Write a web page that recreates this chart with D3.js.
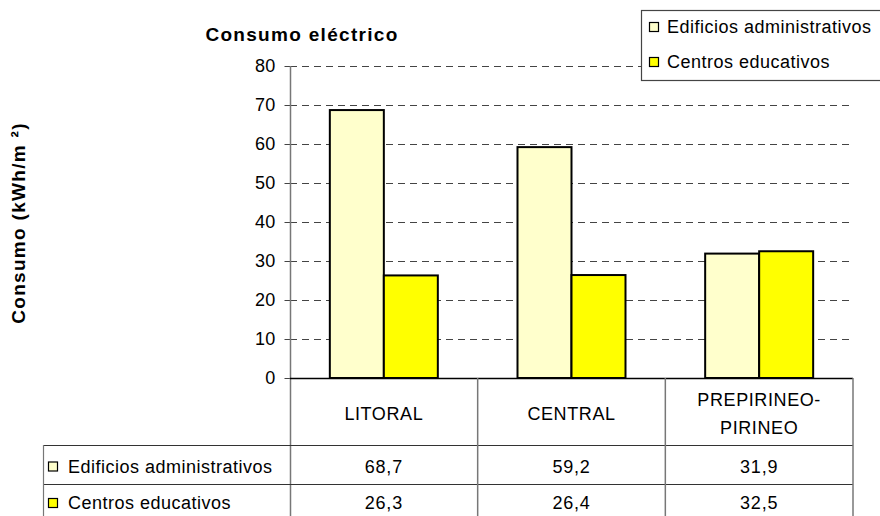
<!DOCTYPE html>
<html><head><meta charset="utf-8">
<script src="https://cdn.jsdelivr.net/npm/d3@7"></script>
<style>
html,body{margin:0;padding:0;background:#fff;}
svg{display:block;font-family:"Liberation Sans",Arial,sans-serif;}
</style></head>
<body>
<svg id="c" width="880" height="516"></svg>
<script>
const categories = ["LITORAL", "CENTRAL", "PREPIRINEO-PIRINEO"];
const categoryLines = [["LITORAL"], ["CENTRAL"], ["PREPIRINEO-", "PIRINEO"]];
const seriesNames = ["Edificios administrativos", "Centros educativos"];
const edificios = [68.7, 59.2, 31.9];
const centros = [26.3, 26.4, 32.5];
const yTicks = [0, 10, 20, 30, 40, 50, 60, 70, 80];
const colors = ["#FFFFCC", "#FFFF00"];
const title = "Consumo eléctrico";
const yLabel = "Consumo (kWh/m ²)";

const seriesValues = [edificios, centros];
const svg = d3.select("#c");
const W = 880, H = 516;
const pL = 290, pR = 853, pT = 66, pB = 378;
const fmt = d3.formatLocale({decimal: ",", thousands: ".", grouping: [3], currency: ["", "€"]}).format(".1f");

const x = d3.scaleBand().domain(categories).range([pL, pR]).padding(0);
const bw = x.bandwidth();
const x1 = d3.scaleBand().domain(seriesNames).range([bw / 2 - 54, bw / 2 + 54]).padding(0);
const y = d3.scaleLinear().domain([0, 80]).range([pB, pT]);

// gridlines
svg.append("g").selectAll("line").data(yTicks.filter(d => d > 0)).join("line")
  .attr("x1", pL).attr("x2", pR)
  .attr("y1", d => Math.round(y(d)) + 0.5).attr("y2", d => Math.round(y(d)) + 0.5)
  .attr("stroke", "#444").attr("stroke-width", 1).attr("stroke-dasharray", "7,5");

// y axis
const yAxis = d3.axisLeft(y).tickValues(yTicks).tickSize(6).tickPadding(9).tickFormat(d3.format("d"));
const gy = svg.append("g").attr("transform", `translate(${pL + 0.5},0)`).call(yAxis);
gy.select(".domain").remove();
gy.selectAll(".tick line").attr("stroke", "#444");
gy.selectAll(".tick text").attr("font-size", 18).attr("fill", "#000")
  .attr("font-family", "Liberation Sans, Arial, sans-serif").attr("letter-spacing", 0.2);
svg.append("line").attr("x1", pL + 0.5).attr("x2", pL + 0.5).attr("y1", pT).attr("y2", H)
  .attr("stroke", "#777").attr("stroke-width", 1.5);

// bars
const groups = svg.append("g").selectAll("g").data(categories).join("g")
  .attr("transform", d => `translate(${x(d)},0)`);
groups.selectAll("rect").data((d, i) => seriesNames.map((s, j) => ({s, j, v: seriesValues[j][i]}))).join("rect")
  .attr("x", d => x1(d.s)).attr("width", x1.bandwidth())
  .attr("y", d => y(d.v)).attr("height", d => y(0) - y(d.v))
  .attr("fill", d => colors[d.j]).attr("stroke", "#000").attr("stroke-width", 2);

// table
const rowTop = 445, row2 = 484;
const tbl = svg.append("g");
tbl.append("line").attr("x1", pL).attr("x2", pR).attr("y1", pB + 0.5).attr("y2", pB + 0.5)
  .attr("stroke", "#000").attr("stroke-width", 1.5);
[rowTop, row2].forEach(yy => tbl.append("line").attr("x1", 43).attr("x2", pR).attr("y1", yy + 0.5).attr("y2", yy + 0.5)
  .attr("stroke", "#333").attr("stroke-width", 1.2));
tbl.append("line").attr("x1", 43.5).attr("x2", 43.5).attr("y1", rowTop).attr("y2", H).attr("stroke", "#777").attr("stroke-width", 1.2);
categories.forEach(c => {
  const xr = x(c) + bw;
  tbl.append("line").attr("x1", xr).attr("x2", xr).attr("y1", pB).attr("y2", H).attr("stroke", "#777").attr("stroke-width", 1.5);
});
categories.forEach((c, i) => {
  const lines = categoryLines[i];
  const cy = (pB + rowTop) / 2 + 2;
  const lh = 28;
  lines.forEach((ln, k) => {
    tbl.append("text").attr("x", x(c) + bw / 2).attr("y", cy + (k - (lines.length - 1) / 2) * lh)
      .attr("text-anchor", "middle").attr("dominant-baseline", "central")
      .attr("font-size", 18).attr("letter-spacing", 0.6).attr("fill", "#000").text(ln);
  });
});
const rowCenters = [(rowTop + row2) / 2 + 2, (row2 + H) / 2 + 3];
seriesNames.forEach((s, j) => {
  const cy = rowCenters[j];
  tbl.append("rect").attr("x", 48.5).attr("y", cy - 4.5).attr("width", 9).attr("height", 9)
    .attr("fill", colors[j]).attr("stroke", "#000").attr("stroke-width", 1.2);
  tbl.append("text").attr("x", 68).attr("y", cy).attr("dominant-baseline", "central")
    .attr("font-size", 18).attr("letter-spacing", 0.5).attr("fill", "#000").text(s);
  categories.forEach((c, i) => {
    tbl.append("text").attr("x", x(c) + bw / 2).attr("y", cy).attr("text-anchor", "middle")
      .attr("dominant-baseline", "central").attr("font-size", 18).attr("letter-spacing", 0.8)
      .attr("fill", "#000").text(fmt(seriesValues[j][i]));
  });
});

// legend
const lg = svg.append("g");
lg.append("rect").attr("x", 641.5).attr("y", 10.5).attr("width", 250).attr("height", 70)
  .attr("fill", "#fff").attr("stroke", "#444").attr("stroke-width", 1.2);
const legY = [27, 62];
seriesNames.forEach((s, j) => {
  lg.append("rect").attr("x", 649.5).attr("y", legY[j] - 4.5).attr("width", 9).attr("height", 9)
    .attr("fill", colors[j]).attr("stroke", "#000").attr("stroke-width", 1.2);
  lg.append("text").attr("x", 667).attr("y", legY[j]).attr("dominant-baseline", "central")
    .attr("font-size", 18).attr("letter-spacing", 0.5).attr("fill", "#000").text(s);
});

svg.append("text").attr("x", 302).attr("y", 34).attr("text-anchor", "middle").attr("dominant-baseline", "central")
  .attr("font-size", 19).attr("font-weight", "bold").attr("letter-spacing", 1.3).attr("fill", "#000").text(title);
svg.append("text").attr("transform", "translate(18,223) rotate(-90)").attr("text-anchor", "middle")
  .attr("dominant-baseline", "central").attr("font-size", 19).attr("font-weight", "bold")
  .attr("letter-spacing", 1.3).attr("fill", "#000").text(yLabel);
</script>
</body></html>
